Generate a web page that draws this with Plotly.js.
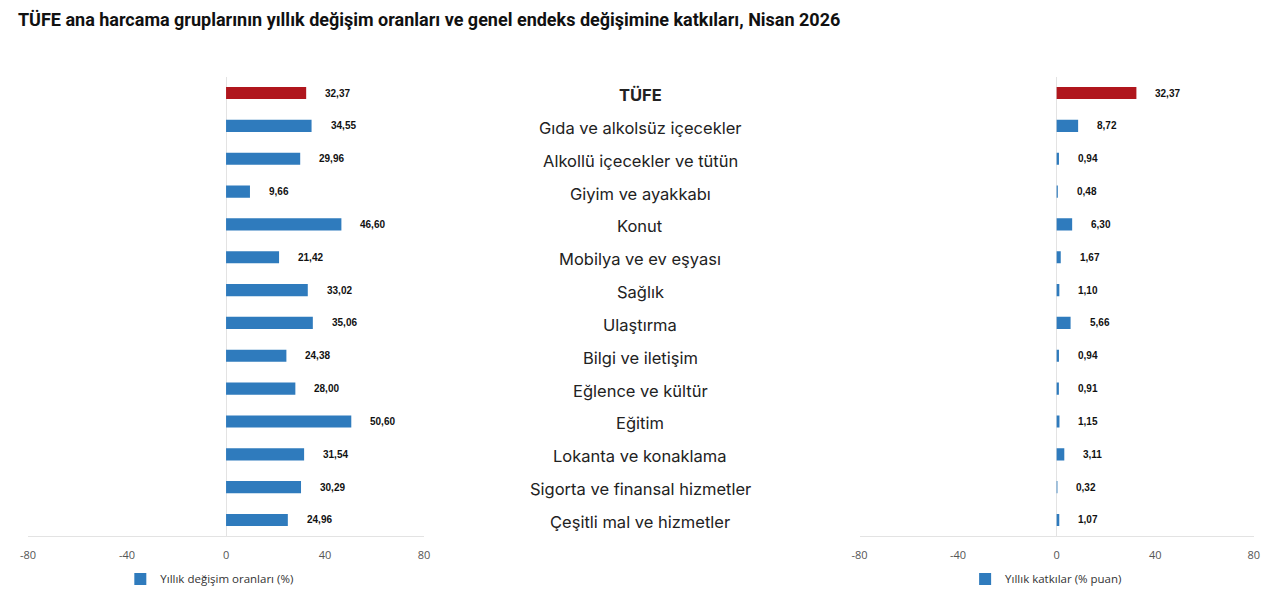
<!DOCTYPE html>
<html>
<head>
<meta charset="utf-8">
<script src="https://cdn.plot.ly/plotly-3.0.1.min.js"></script>
<style>
  html, body { margin: 0; padding: 0; background: #ffffff; }
  #chart { width: 1280px; height: 612px; }
</style>
</head>
<body>
<div id="chart"></div>
<script>
// TÜFE ana harcama grupları, Nisan 2026
const categories = [
  'TÜFE',
  'Gıda ve alkolsüz içecekler',
  'Alkollü içecekler ve tütün',
  'Giyim ve ayakkabı',
  'Konut',
  'Mobilya ve ev eşyası',
  'Sağlık',
  'Ulaştırma',
  'Bilgi ve iletişim',
  'Eğlence ve kültür',
  'Eğitim',
  'Lokanta ve konaklama',
  'Sigorta ve finansal hizmetler',
  'Çeşitli mal ve hizmetler',
];
const annualChange = [32.37, 34.55, 29.96, 9.66, 46.60, 21.42, 33.02, 35.06, 24.38, 28.00, 50.60, 31.54, 30.29, 24.96];
const contribution = [32.37, 8.72, 0.94, 0.48, 6.30, 1.67, 1.10, 5.66, 0.94, 0.91, 1.15, 3.11, 0.32, 1.07];
const tickValues = [-80, -40, 0, 40, 80];
const tickLabels = ['-80', '-40', '0', '40', '80'];
const legendNames = ['Yıllık değişim oranları (%)', 'Yıllık katkılar (% puan)'];

const RED = '#b0161d';
const BLUE = '#2f7bbd';
const BAR_W = 0.37;

const _fmt = v => v.toFixed(2).replace('.', ',');

function _xaxis(domain, anchor) {
  return {
    domain: domain, anchor: anchor,
    range: [-80, 80], tickvals: tickValues, ticktext: tickLabels,
    showgrid: false,
    zeroline: true, zerolinecolor: '#e3e3e3', zerolinewidth: 1,
    showline: true, linecolor: '#e3e3e3', linewidth: 1,
    ticks: 'outside', ticklen: 8, tickcolor: 'rgba(0,0,0,0)',
    tickfont: { family: 'Open Sans', size: 11, color: '#555555' },
    fixedrange: true,
  };
}

function _yaxis(anchor) {
  return {
    domain: [0.1235, 0.8748], anchor: anchor,
    type: 'category', categoryorder: 'array', categoryarray: categories,
    autorange: 'reversed',
    showticklabels: false, showgrid: false, zeroline: false, showline: false,
    fixedrange: true,
  };
}

function _pair(values, xa, ya, legend, name) {
  return [
    {
      type: 'bar', orientation: 'h',
      x: values.slice(0, 1), y: categories.slice(0, 1),
      xaxis: xa, yaxis: ya, width: BAR_W,
      marker: { color: RED }, showlegend: false, hoverinfo: 'skip',
    },
    {
      type: 'bar', orientation: 'h', name: name, legend: legend,
      x: values.slice(1), y: categories.slice(1),
      xaxis: xa, yaxis: ya, width: BAR_W,
      marker: { color: BLUE }, hoverinfo: 'skip',
    },
  ];
}

function _valueLabels(values, xref, yref) {
  return values.map((v, i) => ({
    x: v, y: categories[i], xref: xref, yref: yref,
    text: '<b>' + _fmt(v) + '</b>',
    showarrow: false, xanchor: 'left', xshift: 17,
    font: { family: 'Liberation Sans', size: 10, color: '#111111' },
  }));
}

const catLabels = categories.map((c, i) => ({
  x: 0.5, xref: 'paper', y: c, yref: 'y',
  text: i === 0 ? '<b>' + c + '</b>' : c,
  showarrow: false, xanchor: 'center', yshift: -2,
  font: { family: 'Inter', size: 16.5, color: '#222222' },
}));

const traces = [
  ..._pair(annualChange, 'x', 'y', 'legend', legendNames[0]),
  ..._pair(contribution, 'x2', 'y2', 'legend2', legendNames[1]),
];

const _legend = x => ({
  x: x, xanchor: 'left', y: 0.054, yanchor: 'middle',
  orientation: 'h', bgcolor: 'rgba(0,0,0,0)',
  font: { family: 'Open Sans', size: 11.5, color: '#333333' },
});

const layout = {
  width: 1280, height: 612,
  margin: { t: 0, r: 0, b: 0, l: 0 },
  paper_bgcolor: '#ffffff', plot_bgcolor: '#ffffff',
  barmode: 'overlay',
  title: {
    text: '<b>TÜFE ana harcama gruplarının yıllık değişim oranları ve genel endeks değişimine katkıları, Nisan 2026</b>',
    x: 0.014, xanchor: 'left', y: 0.967, yanchor: 'middle',
    font: { family: 'Roboto', size: 18, color: '#111111' },
  },
  xaxis: _xaxis([0.0219, 0.3313], 'y'),
  yaxis: _yaxis('x'),
  xaxis2: _xaxis([0.6715, 0.9795], 'y2'),
  yaxis2: _yaxis('x2'),
  legend: _legend(0.094),
  legend2: _legend(0.754),
  annotations: [
    ...catLabels,
    ..._valueLabels(annualChange, 'x', 'y'),
    ..._valueLabels(contribution, 'x2', 'y2'),
  ],
};

Plotly.newPlot('chart', traces, layout, { displayModeBar: false, staticPlot: true });
</script>
</body>
</html>
